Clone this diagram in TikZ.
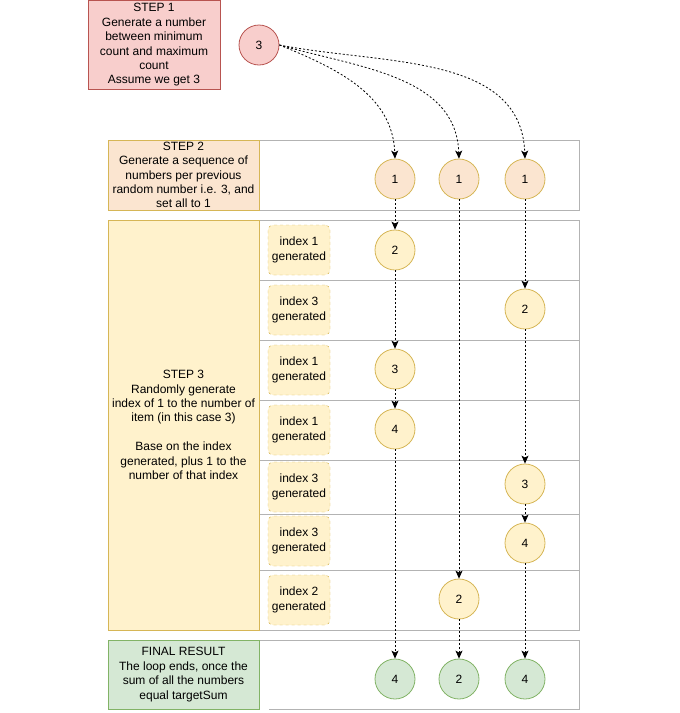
\documentclass[tikz,border=0pt]{standalone}
\usepackage{fontspec}
\setmainfont{Liberation Sans}
\usetikzlibrary{arrows.meta}
\definecolor{redfill}{HTML}{F8CECC}
\definecolor{redline}{HTML}{B85450}
\definecolor{peachfill}{HTML}{FBE5D0}
\definecolor{yellowfill}{HTML}{FFF2CC}
\definecolor{yellowline}{HTML}{D6B656}
\definecolor{greenfill}{HTML}{D5E8D4}
\definecolor{greenline}{HTML}{82B366}
\definecolor{laneline}{HTML}{B3B3B3}

\begin{document}
\begin{tikzpicture}[x=1pt,y=-1pt,>={Stealth[length=8pt,width=7pt,inset=2pt]},
	font=\fontsize{12}{14.4}\selectfont,
	stepbox/.style={draw,
				rectangle,
				align=center,
				inner sep=2pt,
				minimum width=151pt},
	num/.style={draw, circle, minimum size=40pt, inner sep=0pt, line width=0.8pt},
	idx/.style={draw=yellowline, fill=yellowfill, dashed, rounded corners=5pt,
				minimum width=62pt, minimum height=50pt, align=center, inner sep=1pt},
	flow/.style={->, dash pattern=on 2pt off 2pt, line width=0.8pt},
	lane/.style={draw=laneline, line width=1pt}]
	\useasboundingbox (0,0) rectangle (680,713);
	% lanes
	\draw[lane] (259,140) rectangle (579,210);
	\draw[lane] (259,220) rectangle (579,630);
	\draw[lane] (259,280) -- (579,280) (259,340) -- (579,340) (259,400) -- (579,400)
		(259,460) -- (579,460) (259,514) -- (579,514) (259,570) -- (579,570);
	\draw[lane] (259,640) -- (579,640) -- (579,709) -- (269,709);
	% steps
	\node[stepbox, fill=redfill, draw=redline, minimum width=132pt, minimum height=89pt] (step1) at (154,45)
		{STEP 1\\Generate a number\\between minimum\\count and maximum\\count\\Assume we get 3};
	\node[stepbox, fill=peachfill, draw=yellowline, minimum height=70pt] (step2) at (183.5,175)
		{STEP 2\\Generate a sequence of\\numbers per previous\\random number i.e. 3, and\\set all to 1};
	\node[stepbox, fill=yellowfill, draw=yellowline, minimum height=410pt] (step3) at (183.5,425)
		{STEP 3\\Randomly generate\\index of 1 to the number of\\item (in this case 3)\\[14.4pt]Base on the index\\generated, plus 1 to the\\number of that index};
	\node[stepbox, fill=greenfill, draw=greenline, minimum height=69pt] (final) at (183.5,674.5)
		{FINAL RESULT\\The loop ends, once the\\sum of all the numbers\\equal targetSum};
	% generated indexes
	\node[idx] (g1) at (299,250) {index 1\\generated};
	\node[idx] (g2) at (299,310) {index 3\\generated};
	\node[idx] (g3) at (299,370) {index 1\\generated};
	\node[idx] (g4) at (299,430) {index 1\\generated};
	\node[idx] (g5) at (299,487) {index 3\\generated};
	\node[idx] (g6) at (299,541) {index 3\\generated};
	\node[idx] (g7) at (299,600) {index 2\\generated};
	% numbers
	\node[num, fill=redfill, draw=redline] (count) at (259,45) {3};
	\node[num, fill=peachfill, draw=yellowline] (n11) at (395,179) {1};
	\node[num, fill=peachfill, draw=yellowline] (n21) at (459,179) {1};
	\node[num, fill=peachfill, draw=yellowline] (n31) at (525,179) {1};
	\node[num, fill=yellowfill, draw=yellowline] (n12) at (395,250) {2};
	\node[num, fill=yellowfill, draw=yellowline] (n32) at (525,309) {2};
	\node[num, fill=yellowfill, draw=yellowline] (n13) at (395,369) {3};
	\node[num, fill=yellowfill, draw=yellowline] (n14) at (395,429) {4};
	\node[num, fill=yellowfill, draw=yellowline] (n33) at (525,484) {3};
	\node[num, fill=yellowfill, draw=yellowline] (n34) at (525,543) {4};
	\node[num, fill=yellowfill, draw=yellowline] (n22) at (459,599) {2};
	\node[num, fill=greenfill, draw=greenline] (f1) at (395,679) {4};
	\node[num, fill=greenfill, draw=greenline] (f2) at (459,679) {2};
	\node[num, fill=greenfill, draw=greenline] (f3) at (525,679) {4};
	% arrows
	\draw[flow] (count.east) to[out=-22,in=92] (n11.north);
	\draw[flow] (count.east) to[out=-16,in=92] (n21.north);
	\draw[flow] (count.east) to[out=-11,in=92] (n31.north);
	\draw[flow] (n11)--(n12);
	\draw[flow] (n12)--(n13);
	\draw[flow] (n13)--(n14);
	\draw[flow] (n14)--(f1);
	\draw[flow] (n21)--(n22);
	\draw[flow] (n22)--(f2);
	\draw[flow] (n31)--(n32);
	\draw[flow] (n32)--(n33);
	\draw[flow] (n33)--(n34);
	\draw[flow] (n34)--(f3);
\end{tikzpicture}
\end{document}
